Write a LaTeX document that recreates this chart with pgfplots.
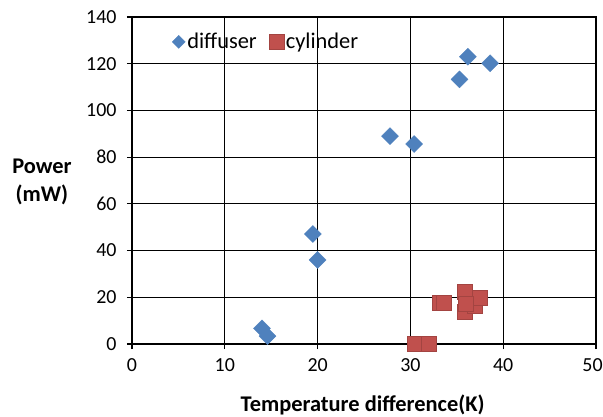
\documentclass[border=0pt]{standalone}
\usepackage{fontspec}
\setmainfont{Carlito}
\usepackage{pgfplots}
\pgfplotsset{compat=1.18}
\definecolor{dblue}{RGB}{79,129,189}
\definecolor{cred}{RGB}{192,80,77}
\begin{document}
\begin{tikzpicture}
\path[use as bounding box] (-132bp,-73bp) rectangle (471bp,344bp);
\begin{axis}[
  width=464bp, height=327bp, scale only axis,
  xmin=0, xmax=50, ymin=0, ymax=140,
  xtick={0,10,...,50}, ytick={0,20,...,140},
  xticklabels={0,10,20,30,40,\hspace*{-7bp}50},
  grid=major, grid style={black, line width=0.9pt},
  axis line style={black, line width=1.1pt},
  tick align=outside, tick pos=left, major tick length=5bp,
  tick style={black, line width=1.1pt},
  /pgf/number format/assume math mode=true,
  ticklabel style={font=\fontsize{20}{22}\selectfont},
  xticklabel style={yshift=-6bp},
  yticklabel style={xshift=-7bp},
  xlabel={Temperature difference(K)},
  xlabel style={at={(axis description cs:0.497,-0.187)}, anchor=center, font=\fontsize{22.5}{25}\selectfont\bfseries},
  ylabel={Power\\(mW)},
  ylabel style={rotate=-90, at={(axis description cs:-0.194,0.495)}, anchor=center, align=center, font=\fontsize{22.5}{28}\selectfont\bfseries},
  legend style={at={(axis description cs:0.08,0.924)}, anchor=west, draw=none, fill=none,
    legend columns=2, font=\fontsize{22.5}{25}\selectfont,
    /tikz/every odd column/.append style={column sep=0bp},
    /tikz/every even column/.append style={column sep=10bp}},
  legend image code/.code={\draw[#1] plot coordinates {(0bp,0bp)};},
  clip=false,
]
\addplot[only marks, mark=square*, mark size=6bp, color=dblue,
  mark options={rotate=45, draw=dblue, fill=dblue},
  legend image post style={mark size=4.6bp}]
  coordinates {
  (14.0,6.7) (14.6,3.4) (19.5,47.1) (20.0,36.0) (27.8,89.0)
  (30.4,85.6) (36.2,123.0) (35.3,113.3) (38.6,120.2)
  };
\addlegendentry{diffuser}
\addplot[only marks, mark=square*, mark size=7.5bp, color=cred,
  mark options={draw=cred!85!black, fill=cred, line width=0.5pt},
  legend image post style={mark size=7.5bp}]
  coordinates {
  (30.5,0) (32.0,0) (33.2,17.8) (33.6,17.8) (35.9,13.8) (36.9,16.5)
  (35.9,22.5) (37.5,19.6) (36.0,17.2)
  };
\addlegendentry{cylinder}
\end{axis}
\end{tikzpicture}
\end{document}
